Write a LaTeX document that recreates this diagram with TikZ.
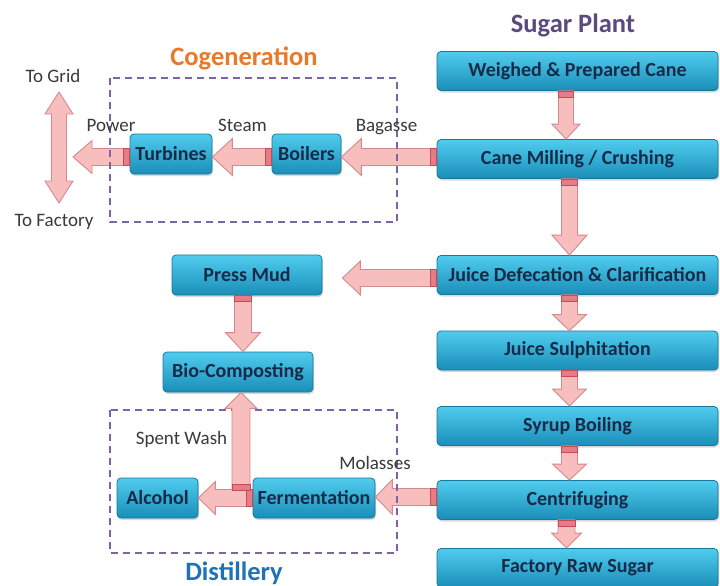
\documentclass[tikz,border=0pt]{standalone}
\usepackage{fontspec}
\setmainfont{Carlito}
\usetikzlibrary{calc,shadows}
\definecolor{nodetop}{HTML}{50CCEE}
\definecolor{nodebot}{HTML}{1A8EB8}
\definecolor{nodeedge}{HTML}{17789E}
\definecolor{nodetext}{HTML}{172B48}
\definecolor{arrfill}{HTML}{F8BDBD}
\definecolor{arrlight}{HTML}{FCDCDC}
\definecolor{arredge}{HTML}{D48A8C}
\definecolor{stubfill}{HTML}{E67C86}
\definecolor{stubedge}{HTML}{C64A56}
\definecolor{lbltext}{HTML}{3A3A3A}
\definecolor{grpcol}{HTML}{7E62A6}
\definecolor{cogcol}{HTML}{E8782A}
\definecolor{sugcol}{HTML}{5B4A7E}
\definecolor{discol}{HTML}{2072B8}
\tikzset{
 proc/.style={rectangle, rounded corners=4pt, top color=nodetop, bottom color=nodebot,
   draw=nodeedge, line width=0.8pt, text=nodetext, font=\fontsize{20}{22}\selectfont\bfseries,
   inner sep=0pt, drop shadow={shadow xshift=1pt, shadow yshift=-2pt, opacity=0.3}},
 blockarr/.style={fill=arrfill, draw=arredge, line width=0.9pt, line join=miter},
 stub/.style={fill=stubfill, draw=stubedge, line width=0.6pt},
 lbl/.style={anchor=base, text=lbltext, font=\fontsize{19}{22}\selectfont, inner sep=0pt},
 ttl/.style={anchor=base, font=\fontsize{26.5}{30}\selectfont\bfseries, inner sep=0pt},
 grp/.style={draw=grpcol, line width=2.4pt, dash pattern=on 7pt off 5pt},
}
% block arrow: #1 tail, #2 tip, #3 shaft half width, #4 head half width, #5 head length
\newcommand\barrow[5]{%
 \coordinate (bs) at (#1);
 \coordinate (bt) at (#2);
 \coordinate (bm) at ($(bt)!#5pt!(bs)$);
 \coordinate (bu) at ($(bs)!6pt!(bt)$);
 \path[blockarr] ($(bs)!#3pt!90:(bt)$) -- ($(bm)!#3pt!90:(bt)$) -- ($(bm)!#4pt!90:(bt)$)
   -- (bt) -- ($(bm)!#4pt!-90:(bt)$) -- ($(bm)!#3pt!-90:(bt)$) -- ($(bs)!#3pt!-90:(bt)$) -- cycle;
 \path[stub] ($(bs)!#3pt!90:(bt)$) -- ($(bu)!#3pt!90:(bt)$) -- ($(bu)!#3pt!-90:(bt)$)
   -- ($(bs)!#3pt!-90:(bt)$) -- cycle;
}
\begin{document}
\begin{tikzpicture}[x=1pt,y=-1pt]
\useasboundingbox[fill=white] (0,0) rectangle (720,586);

% titles
\node[ttl, text=cogcol] (tcog) at (244,66) {Cogeneration};
\node[ttl, text=sugcol] (tsug) at (573,33) {Sugar Plant};
\node[ttl, text=discol] (tdis) at (234,580) {Distillery};

% sugar plant column
\node[proc, minimum width=281pt, minimum height=39pt] (wpc) at (577.5,71) {Weighed \& Prepared Cane};
\node[proc, minimum width=281pt, minimum height=39pt] (cmc) at (577.5,159) {Cane Milling / Crushing};
\node[proc, minimum width=281pt, minimum height=39pt] (jdc) at (577.5,275) {Juice Defecation \& Clarification};
\node[proc, minimum width=281pt, minimum height=39pt] (js) at (577.5,350.5) {Juice Sulphitation};
\node[proc, minimum width=281pt, minimum height=39pt] (sb) at (577.5,426) {Syrup Boiling};
\node[proc, minimum width=281pt, minimum height=39pt] (cf) at (577.5,500) {Centrifuging};
\node[proc, minimum width=281pt, minimum height=39pt] (frs) at (577.5,568) {Factory Raw Sugar};

% left nodes
\node[proc, minimum width=82pt, minimum height=40pt] (tur) at (171,154) {Turbines};
\node[proc, minimum width=69pt, minimum height=40pt] (boil) at (306.5,154) {Boilers};
\node[proc, minimum width=150pt, minimum height=40pt] (pm) at (247,275) {Press Mud};
\node[proc, minimum width=150pt, minimum height=40pt] (bio) at (238,372) {Bio-Composting};
\node[proc, minimum width=81pt, minimum height=40pt] (alc) at (157.5,498) {Alcohol};
\node[proc, minimum width=122pt, minimum height=40pt] (fer) at (314,498) {Fermentation};

% free ends
\coordinate (pw) at (73,157);
\coordinate (grid) at (59,92);
\coordinate (fact) at (59,203);
\coordinate (pmin) at ($(pm.east)+(20,3)$);

% vertical arrows in sugar plant
\barrow{wpc.south -| 566,0}{cmc.north -| 566,0}{7.5}{14}{15}
\barrow{cmc.south -| 569.5,0}{jdc.north -| 569.5,0}{8}{17.5}{20}
\barrow{jdc.south -| 569.5,0}{js.north -| 569.5,0}{8}{17}{16}
\barrow{js.south -| 569.5,0}{sb.north -| 569.5,0}{8}{17}{17}
\barrow{sb.south -| 569.5,0}{cf.north -| 569.5,0}{8}{17}{16}
\barrow{cf.south -| 566.5,0}{frs.north -| 566.5,0}{8.5}{15}{15}

% horizontal arrows
\barrow{cmc.west |- 0,157}{boil.east |- 0,157}{8.5}{18.5}{20}
\barrow{boil.west |- 0,157}{tur.east |- 0,157}{8.5}{18.5}{20}
\barrow{tur.west |- 0,157}{pw}{8.5}{16.5}{19}
\barrow{jdc.west |- pmin}{pmin}{8.5}{17}{18}
\barrow{pm.south -| 243,0}{bio.north -| 243,0}{8.5}{17.5}{19}
\barrow{cf.west |- 0,497}{fer.east |- 0,497}{8.5}{17.5}{17}

% distillery group box
\path[grp] (110,410) rectangle (397,553);

\barrow{fer.west |- 0,498}{alc.east |- 0,498}{8.5}{16.5}{17}
\barrow{241,490}{bio.south -| 241,0}{9}{16}{16}

% power double arrow
\path[blockarr] (grid) -- ($(grid)+(14,22)$) -- ($(grid)+(7.5,22)$) -- ($(fact)+(7.5,-22)$)
  -- ($(fact)+(14,-22)$) -- (fact) -- ($(fact)+(-14,-22)$) -- ($(fact)+(-7.5,-22)$)
  -- ($(grid)+(-7.5,22)$) -- ($(grid)+(-14,22)$) -- cycle;

% cogeneration group box
\path[grp] (110,78) rectangle (397,222);

% labels
\node[lbl] (lgrid) at (53,82) {To Grid};
\node[lbl] (lfact) at (54,226) {To Factory};
\node[lbl] (lpow) at (111,131) {Power};
\node[lbl] (lste) at (242.5,131) {Steam};
\node[lbl] (lbag) at (386.5,131) {Bagasse};
\node[lbl] (lspw) at (181.5,444) {Spent Wash};
\node[lbl] (lmol) at (375,469) {Molasses};
\end{tikzpicture}
\end{document}
